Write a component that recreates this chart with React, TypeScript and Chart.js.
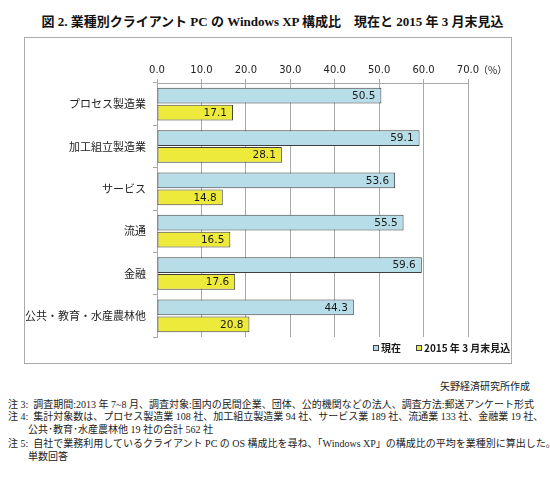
import React, { useEffect, useRef } from "react";
import { Chart, registerables } from "chart.js";

Chart.register(...registerables);

const categories = [
  "プロセス製造業",
  "加工組立製造業",
  "サービス",
  "流通",
  "金融",
  "公共・教育・水産農林他",
];
const currentValues = [50.5, 59.1, 53.6, 55.5, 59.6, 44.3];
const forecastValues = [17.1, 28.1, 14.8, 16.5, 17.6, 20.8];
const seriesLabels = ["現在", "2015 年 3 月末見込"];
const axisMin = 0;
const axisMax = 70;
const axisStep = 10;
const axisUnit = "（%）";

const BLUE = "#b7dde8";
const YELLOW = "#eeea3c";
const EDGE = "#3f3f3f";
const GRID = "#a9a9a9";

const NUM_FONT = '"DejaVu Sans", sans-serif';
const JP_FONT = '"Noto Sans CJK JP", sans-serif';
const SERIF = '"Liberation Serif", "Noto Sans CJK JP", serif';

const valueLabelPlugin = {
  id: "valueLabels",
  afterDatasetsDraw(chart: any) {
    const ctx = chart.ctx;
    ctx.save();
    ctx.font = `10.5px ${NUM_FONT}`;
    ctx.fillStyle = "#1a1a1a";
    ctx.textAlign = "right";
    ctx.textBaseline = "middle";
    chart.data.datasets.forEach((ds: any, di: number) => {
      const meta = chart.getDatasetMeta(di);
      meta.data.forEach((el: any, i: number) => {
        const v = ds.data[i];
        ctx.fillText(v.toFixed(1), el.x - 6, el.y + 0.5);
      });
    });
    ctx.restore();
  },
};

const extrasPlugin = {
  id: "extras",
  afterDraw(chart: any) {
    const ctx = chart.ctx;
    const area = chart.chartArea;
    ctx.save();
    const xs = chart.scales.x;
    ctx.font = `10px ${JP_FONT}`;
    ctx.fillStyle = "#222";
    ctx.textAlign = "left";
    ctx.textBaseline = "middle";
    ctx.fillText(axisUnit, xs.getPixelForValue(axisMax) + 10, 33);

    const items = chart.data.datasets.map((ds: any) => ({
      label: ds.label,
      color: ds.backgroundColor,
    }));
    const starts = [349, 392];
    const ly = area.bottom + 11;
    ctx.font = `bold 10px ${JP_FONT}`;
    items.forEach((it: any, i: number) => {
      const x = starts[i];
      ctx.fillStyle = it.color;
      ctx.fillRect(x, ly - 3, 6, 6);
      ctx.strokeStyle = EDGE;
      ctx.lineWidth = 1;
      ctx.strokeRect(x + 0.5, ly - 2.5, 5, 5);
      ctx.fillStyle = "#1a1a1a";
      ctx.fillText(it.label, x + 8, ly);
    });
    ctx.restore();
  },
};

function ChartBox() {
  const ref = useRef<HTMLCanvasElement | null>(null);
  useEffect(() => {
    if (!ref.current) return;
    const chart = new Chart(ref.current, {
      type: "bar",
      data: {
        labels: categories,
        datasets: [
          {
            label: seriesLabels[0],
            data: currentValues,
            backgroundColor: BLUE,
            borderColor: EDGE,
            borderWidth: 1,
            borderSkipped: false,
            categoryPercentage: 0.8,
            barPercentage: 0.93,
          },
          {
            label: seriesLabels[1],
            data: forecastValues,
            backgroundColor: YELLOW,
            borderColor: EDGE,
            borderWidth: 1,
            borderSkipped: false,
            categoryPercentage: 0.8,
            barPercentage: 0.93,
          },
        ],
      },
      options: {
        indexAxis: "y",
        animation: false,
        responsive: true,
        maintainAspectRatio: false,
        devicePixelRatio: 1,
        layout: { padding: { left: 0, right: 44, top: 0, bottom: 27 } },
        plugins: {
          legend: { display: false },
          tooltip: { enabled: false },
          title: { display: false },
        },
        scales: {
          x: {
            position: "top",
            min: axisMin,
            max: axisMax,
            ticks: {
              stepSize: axisStep,
              padding: 3,
              color: "#222",
              font: { family: NUM_FONT, size: 10 },
              callback: (v: any) => Number(v).toFixed(1),
            },
            grid: { color: GRID, lineWidth: 1, tickLength: 4, drawTicks: true },
            border: { display: true, color: GRID, width: 1 },
            afterFit: (s: any) => {
              s.height = 46;
            },
          },
          y: {
            ticks: {
              padding: 7,
              color: "#222",
              font: { family: JP_FONT, size: 11 },
            },
            grid: {
              drawOnChartArea: false,
              color: GRID,
              tickLength: 4,
              offset: true,
            },
            border: { display: true, color: GRID, width: 1 },
            afterFit: (s: any) => {
              s.width = 133;
            },
          },
        },
      },
      plugins: [valueLabelPlugin, extrasPlugin],
    } as any);
    return () => chart.destroy();
  }, []);
  return <canvas ref={ref} />;
}

const noteStyle: React.CSSProperties = {
  position: "absolute",
  left: 8,
  fontFamily: SERIF,
  fontSize: 10,
  lineHeight: "13px",
  whiteSpace: "nowrap",
  color: "#222",
};

export default function App() {
  return (
    <div style={{ position: "absolute", left: 0, top: 0, width: 550, height: 483, background: "#fff" }}>
      <div
        style={{
          position: "absolute",
          left: 0,
          width: 545,
          top: 14,
          textAlign: "center",
          fontFamily: SERIF,
          fontWeight: "bold",
          fontSize: 13,
          lineHeight: "16px",
          whiteSpace: "nowrap",
          color: "#111",
        }}
      >
        図 2. 業種別クライアント PC の Windows XP 構成比　現在と 2015 年 3 月末見込
      </div>
      <div
        style={{
          position: "absolute",
          left: 24,
          top: 37,
          width: 488,
          height: 327,
          boxSizing: "border-box",
          border: "1px solid #ababab",
        }}
      />
      <div style={{ position: "absolute", left: 24, top: 37, width: 488, height: 327 }}>
        <ChartBox />
      </div>
      <div style={{ ...noteStyle, left: "auto", right: 20, top: 380 }}>矢野経済研究所作成</div>
      <div style={{ ...noteStyle, top: 398 }}>
        注 3:&nbsp; 調査期間:2013 年 7~8 月、調査対象:国内の民間企業、団体、公的機関などの法人、調査方法:郵送アンケート形式
      </div>
      <div style={{ ...noteStyle, top: 410 }}>
        注 4:&nbsp; 集計対象数は、プロセス製造業 108 社、加工組立製造業 94 社、サービス業 189 社、流通業 133 社、金融業 19 社、
      </div>
      <div style={{ ...noteStyle, left: 28, top: 423 }}>公共･教育･水産農林他 19 社の合計 562 社</div>
      <div style={{ ...noteStyle, top: 437 }}>
        注 5:&nbsp; 自社で業務利用しているクライアント PC の OS 構成比を尋ね、「Windows XP」の構成比の平均を業種別に算出した。
      </div>
      <div style={{ ...noteStyle, left: 28, top: 450 }}>単数回答</div>
    </div>
  );
}
